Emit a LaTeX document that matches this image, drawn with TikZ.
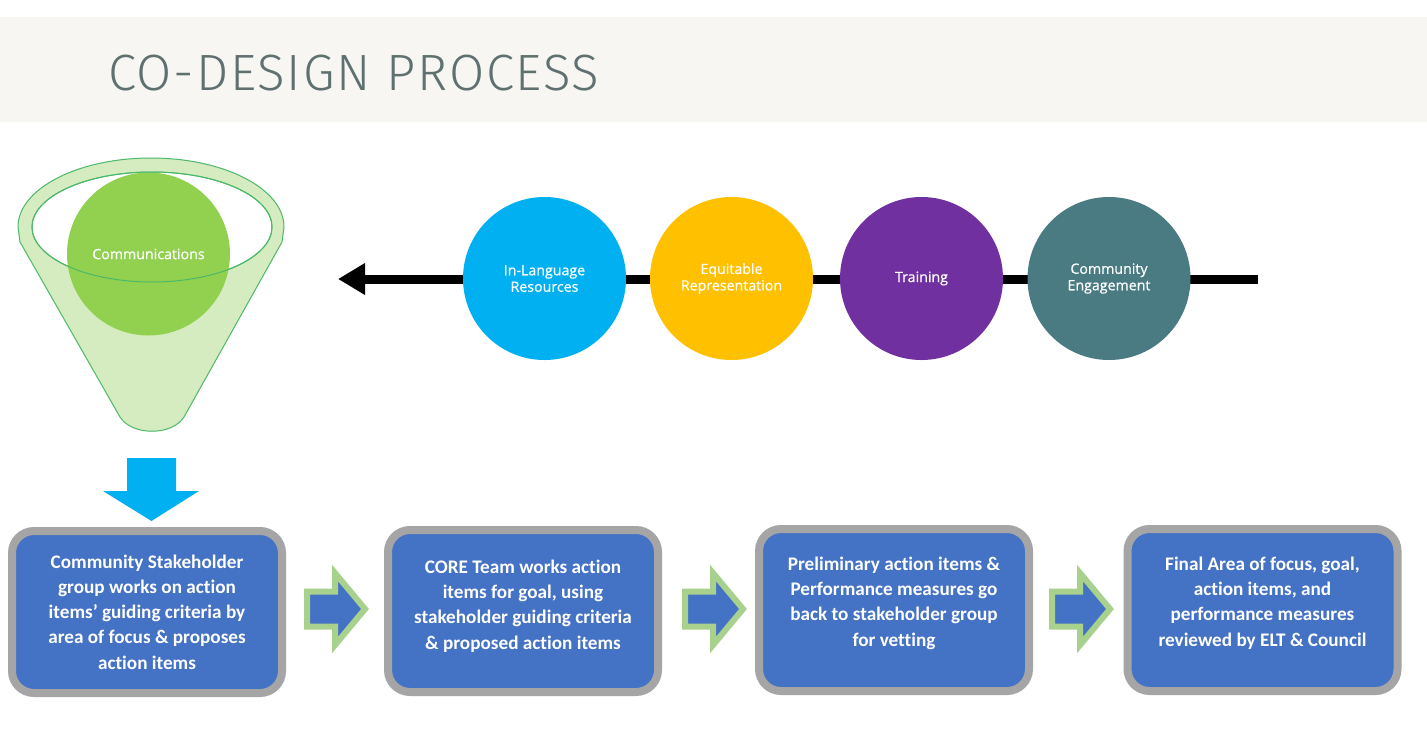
\documentclass[tikz,border=0pt]{standalone}
\usepackage{fontspec}
\setmainfont{Carlito}[Ligatures={NoCommon}]
\newfontfamily\titlefont{Fira Sans}[UprightFont={* Light}, LetterSpace=3.5]
\newfontfamily\circfont{Open Sans}[BoldFont={Open Sans}, BoldFeatures={FakeBold=0.6}]
\usetikzlibrary{arrows.meta,calc}
\definecolor{bandgray}{HTML}{F7F6F3}
\definecolor{titlecol}{HTML}{5E7070}
\definecolor{funnelfill}{HTML}{D5ECC0}
\definecolor{funnelline}{HTML}{4CB86A}
\definecolor{commgreen}{HTML}{92D050}
\definecolor{cyanc}{HTML}{00B0F0}
\definecolor{yellowc}{HTML}{FFC000}
\definecolor{purplec}{HTML}{7030A0}
\definecolor{tealc}{HTML}{4A7A82}
\definecolor{boxblue}{HTML}{4472C4}
\definecolor{boxgray}{HTML}{A5A5A5}
\definecolor{arrgreen}{HTML}{A9D18E}
\tikzset{
  topic/.style={circle, minimum size=163pt, inner sep=0pt, text=white, align=center,
    font=\circfont\bfseries\fontsize{14.2}{16.5}\selectfont},
  stepbox/.style={draw=boxgray, line width=8pt, fill=boxblue, rounded corners=22pt,
    minimum width=270pt, minimum height=162pt, inner sep=0pt},
  boxtext/.style={text=white, align=center, inner sep=0pt,
    font=\bfseries\fontsize{19.2}{25.3}\selectfont},
  funnelstroke/.style={draw=funnelline, line width=1pt},
  blockarr/.pic={\draw[line width=6pt, draw=arrgreen, fill=boxblue, miter limit=10]
    (3,-20.5) -- (31,-20.5) -- (31,-39) -- (61,-3) -- (31,33) -- (31,14.5) -- (3,14.5) -- cycle;}
}
\begin{document}
\begin{tikzpicture}[x=1pt,y=-1pt]
\useasboundingbox (0,0) rectangle (1427,737);
\fill[white] (0,0) rectangle (1427,737);
% header band
\fill[bandgray] (0,17) rectangle (1427,122);
\node[anchor=base west, inner sep=0pt, text=titlecol,
  font=\titlefont\fontsize{51}{51}\selectfont] (title) at (108,90) {CO-DESIGN PROCESS};
% funnel
\draw[funnelstroke, fill=funnelfill] (18,227) arc[start angle=180, end angle=360, x radius=133, y radius=69]
  -- (282,242) -- (184,417) .. controls (172,436) and (132,436) .. (120,417) -- (20,242) -- cycle;
\draw[funnelstroke, fill=white] (152,227) ellipse[x radius=120, y radius=55];
\node[topic, fill=commgreen] (comm) at (148.5,254) {Communications};
\draw[funnelstroke] (152,227) ellipse[x radius=120, y radius=55];
% timeline
\coordinate (tlR) at (1258,279);
\coordinate (tlL) at (338,279);
\draw[line width=9pt, -{Triangle[length=27pt,width=30pt]}] (tlR) -- (tlL);
\node[topic, fill=cyanc] (c1) at (544.5,278.5) {In-Language\\Resources};
\node[topic, fill=yellowc] (c2) at (731.5,278.5) {Equitable\\Representation};
\node[topic, fill=purplec] (c3) at (921.5,278.5) {Training};
\node[topic, fill=tealc] (c4) at (1109,278.5) {Community\\Engagement};
% boxes
\node[stepbox] (b1) at (147,612) {};
\node[stepbox] (b2) at (523,611) {};
\node[stepbox] (b3) at (894,610) {};
\node[stepbox] (b4) at (1262.5,610) {};
\node[boxtext] (t1) at (147,612) {Community Stakeholder\\group works on action\\items’ guiding criteria by\\area of focus \& proposes\\action items};
\node[boxtext] (t2) at (523,606) {CORE Team works action\\items for goal, using\\stakeholder guiding criteria\\\& proposed action items};
\node[boxtext] (t3) at (894,603) {Preliminary action items \&\\Performance measures go\\back to stakeholder group\\for vetting};
\node[boxtext] (t4) at (1262.5,603) {Final Area of focus, goal,\\action items, and\\performance measures\\reviewed by ELT \& Council};
% down arrow
\fill[cyanc] (127,458) -- (176,458) -- (176,491) -- (199,491) -- (151.5,521) -- (103,491) -- (127,491) -- cycle;
% block arrows
\pic at ($(b1.east)+(18,0)$) {blockarr};
\pic at ($(b2.east)+(20,1)$) {blockarr};
\pic at ($(b3.east)+(16,2)$) {blockarr};
\end{tikzpicture}
\end{document}
